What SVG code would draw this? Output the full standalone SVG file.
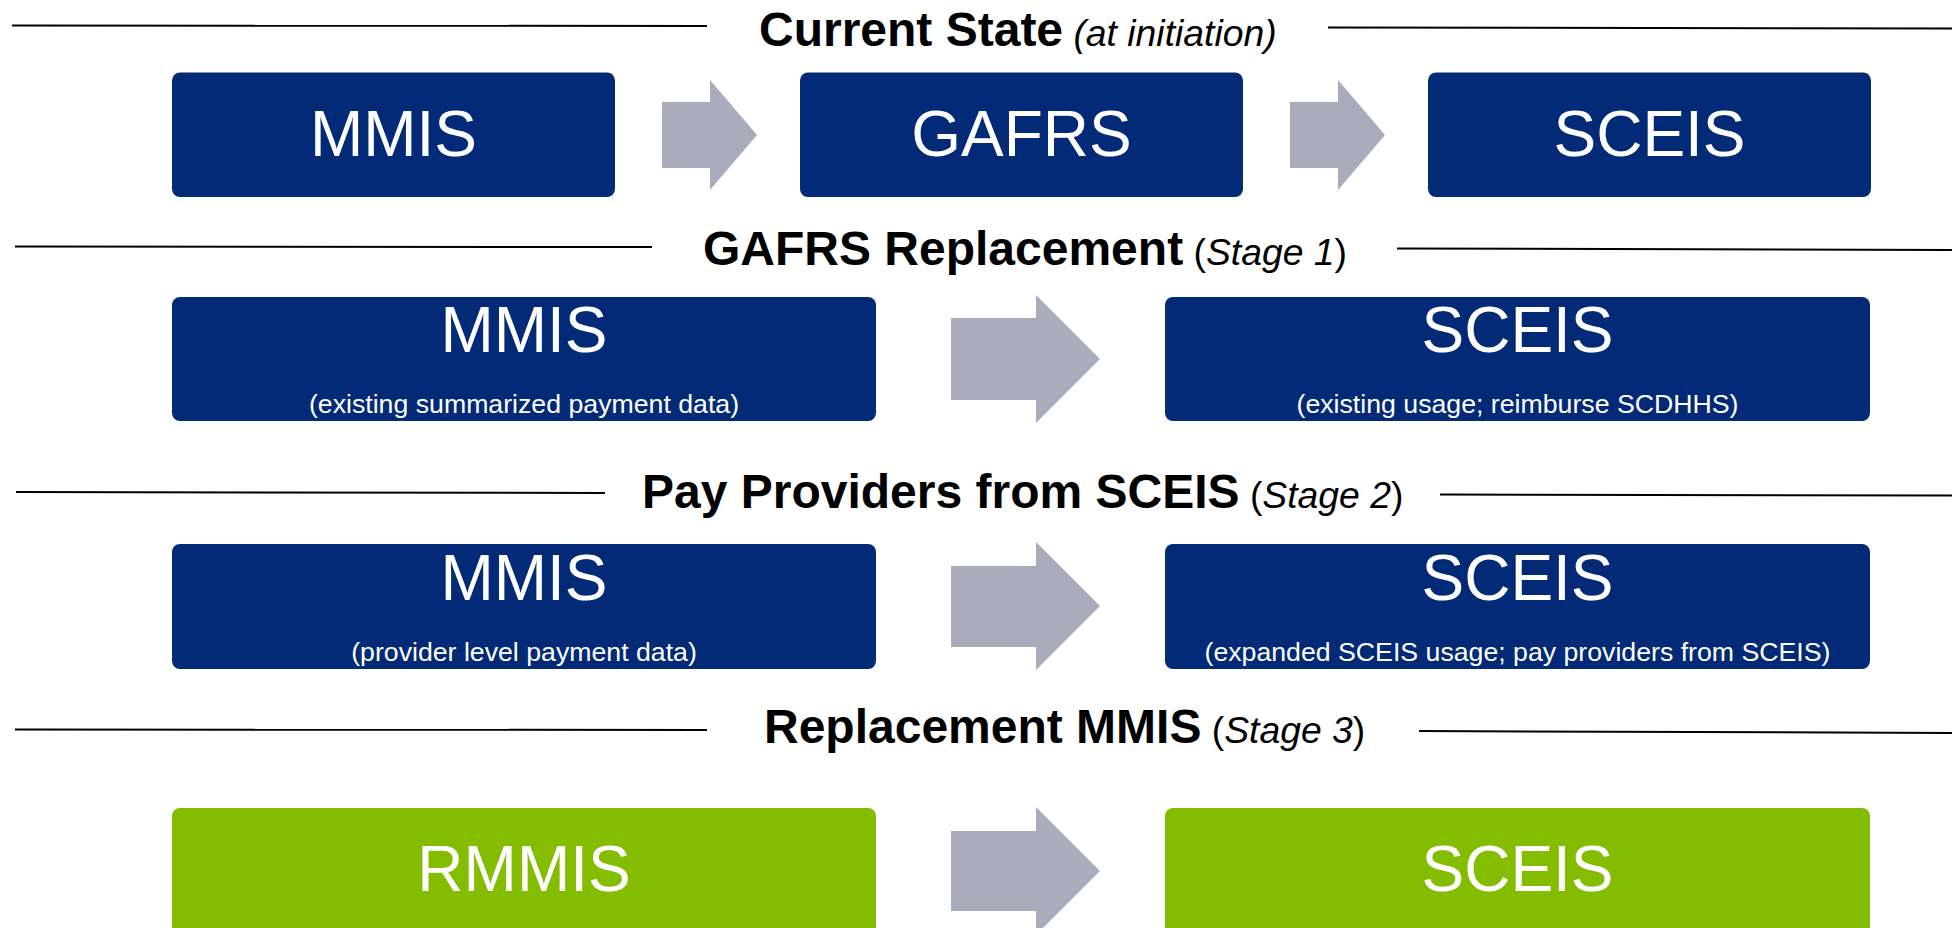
<svg xmlns="http://www.w3.org/2000/svg" width="1952" height="928" viewBox="0 0 1952 928">
  <style>
    .bg { fill: #ffffff; }
    .rule { stroke: #000000; stroke-width: 2; fill: none; }
    .box-blue { fill: #022A77; }
    .box-green { fill: #84BD00; }
    .arrow { fill: #AAACBE; }
    .head { font-family: "Liberation Sans", Arial, sans-serif; fill: #000000; }
    .head .b { font-weight: bold; font-size: 48px; }
    .head .r { font-weight: normal; font-size: 37.3px; }
    .head .i { font-style: italic; font-weight: normal; font-size: 37.3px; }
    .name { font-family: "Liberation Sans", Arial, sans-serif; font-size: 64px; fill: #ffffff; text-anchor: middle; }
    .note { font-family: "Liberation Sans", Arial, sans-serif; font-size: 26.7px; fill: #ffffff; text-anchor: middle; }
  </style>

  <rect class="bg" x="0" y="0" width="1952" height="928"/>

  <!-- section dividers -->
  <g id="dividers">
    <line class="rule" x1="12" y1="25.5" x2="707" y2="26"/>
    <line class="rule" x1="1328" y1="27.5" x2="1952" y2="28.5"/>
    <line class="rule" x1="15" y1="246.5" x2="652" y2="247"/>
    <line class="rule" x1="1397" y1="248.5" x2="1952" y2="250"/>
    <line class="rule" x1="16" y1="492" x2="605" y2="493"/>
    <line class="rule" x1="1440" y1="494.5" x2="1952" y2="495.5"/>
    <line class="rule" x1="15" y1="729.5" x2="707" y2="730"/>
    <line class="rule" x1="1419" y1="731" x2="1952" y2="733"/>
  </g>

  <!-- section headings -->
  <g id="headings">
    <text class="head" x="759" y="46"><tspan class="b">Current State</tspan><tspan class="r"> </tspan><tspan class="i">(at initiation)</tspan></text>
    <text class="head" x="703" y="265"><tspan class="b">GAFRS Replacement</tspan><tspan class="r"> (</tspan><tspan class="i">Stage 1</tspan><tspan class="r">)</tspan></text>
    <text class="head" x="642" y="508"><tspan class="b">Pay Providers from SCEIS</tspan><tspan class="r"> (</tspan><tspan class="i">Stage 2</tspan><tspan class="r">)</tspan></text>
    <text class="head" x="764" y="743"><tspan class="b">Replacement MMIS</tspan><tspan class="r"> (</tspan><tspan class="i">Stage 3</tspan><tspan class="r">)</tspan></text>
  </g>

  <!-- current state -->
  <g id="cs-mmis">
    <rect class="box-blue" x="172" y="72.5" width="443" height="124.5" rx="8"/>
    <text class="name" x="393.5" y="156">MMIS</text>
  </g>
  <g id="cs-gafrs">
    <rect class="box-blue" x="800" y="72.5" width="443" height="124.5" rx="8"/>
    <text class="name" x="1021.5" y="156">GAFRS</text>
  </g>
  <g id="cs-sceis">
    <rect class="box-blue" x="1428" y="72.5" width="443" height="124.5" rx="8"/>
    <text class="name" x="1649.5" y="156">SCEIS</text>
  </g>

  <!-- stage 1 -->
  <g id="s1-mmis">
    <rect class="box-blue" x="172" y="297" width="704" height="124" rx="8"/>
    <text class="name" x="524" y="352">MMIS</text>
    <text class="note" x="524" y="413">(existing summarized payment data)</text>
  </g>
  <g id="s1-sceis">
    <rect class="box-blue" x="1165" y="297" width="705" height="124" rx="8"/>
    <text class="name" x="1517.5" y="352">SCEIS</text>
    <text class="note" x="1517.5" y="413">(existing usage; reimburse SCDHHS)</text>
  </g>

  <!-- stage 2 -->
  <g id="s2-mmis">
    <rect class="box-blue" x="172" y="544" width="704" height="125" rx="8"/>
    <text class="name" x="524" y="600">MMIS</text>
    <text class="note" x="524" y="661">(provider level payment data)</text>
  </g>
  <g id="s2-sceis">
    <rect class="box-blue" x="1165" y="544" width="705" height="125" rx="8"/>
    <text class="name" x="1517.5" y="600">SCEIS</text>
    <text class="note" x="1517.5" y="661">(expanded SCEIS usage; pay providers from SCEIS)</text>
  </g>

  <!-- stage 3 -->
  <g id="s3-rmmis">
    <rect class="box-green" x="172" y="808" width="704" height="140" rx="8"/>
    <text class="name" x="524" y="891">RMMIS</text>
  </g>
  <g id="s3-sceis">
    <rect class="box-green" x="1165" y="808" width="705" height="140" rx="8"/>
    <text class="name" x="1517.5" y="891">SCEIS</text>
  </g>

  <!-- block arrows between systems -->
  <g id="connectors">
    <polygon class="arrow" points="662,102 710,102 710,80 757,135 710,190 710,168 662,168"/>
    <polygon class="arrow" points="1290,102 1338,102 1338,80 1385,135 1338,190 1338,168 1290,168"/>
    <polygon class="arrow" points="951,318 1036,318 1036,295 1100,359 1036,423 1036,400 951,400"/>
    <polygon class="arrow" points="951,566 1036,566 1036,542 1100,606 1036,670 1036,647 951,647"/>
    <polygon class="arrow" points="951,831 1036,831 1036,807 1100,871 1036,935 1036,911 951,911"/>
  </g>
</svg>
